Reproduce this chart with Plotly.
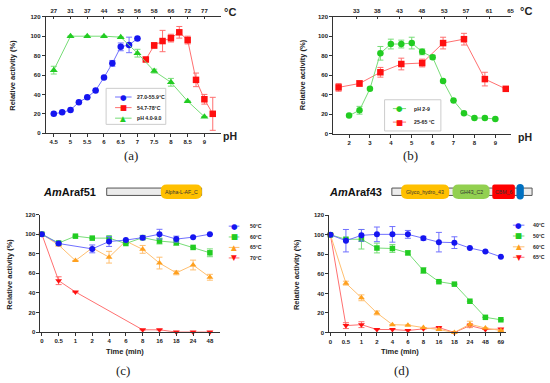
import plotly.graph_objects as go

W, H = 550, 383
def fx(p): return p / W
def fy(p): return 1 - p / H

# ---------------- data ----------------
# (a)
a_blue_ph = [4.5, 4.75, 5, 5.25, 5.5, 5.75, 6, 6.25, 6.5, 6.75, 7]
a_blue_val = [20, 21.5, 24, 32, 37, 44, 57.5, 72, 89, 91, 97.5]
a_blue_err = [0, 0, 0, 0, 0, 0, 0, 3, 4, 8, 0]
a_red_ph = [7.25, 7.5, 7.75, 8, 8.25, 8.5, 8.75, 9, 9.25]
a_red_val = [76, 90.5, 95, 98, 104, 96, 55, 35, 20]
a_red_err = [0, 3, 11, 4, 6, 4, 7, 5, 17]
a_green_ph = [4.5, 5, 5.5, 6, 6.5, 7, 7.5, 8, 8.5, 9]
a_green_val = [65, 100, 100, 100, 99, 82.5, 64, 52.5, 33, 17]
a_green_err = [4, 0, 0, 0, 0, 4, 2, 4, 0, 0]
a_ph_ticks = [4.5, 5, 5.5, 6, 6.5, 7, 7.5, 8, 8.5, 9]
a_ph_labels = ['4.5', '5', '5.5', '6', '6.5', '7', '7.5', '8', '8.5', '9']
a_temp_labels = ['27', '31', '37', '44', '52', '56', '58', '66', '72', '77']
a_legend = ['27.0-55.9°C', '54.7-78°C', 'pH 4.0-9.0']

# (b)
b_green_ph = [2, 2.5, 3, 3.5, 4, 4.5, 5, 5.5, 6, 6.5, 7, 7.5, 8, 8.5, 9]
b_green_val = [18.5, 24, 46, 82.5, 92, 92, 93, 84, 78.5, 54, 34, 21, 16, 16, 15]
b_green_err = [0, 4, 0, 7, 5, 4, 6, 3, 2, 0, 0, 0, 0, 0, 0]
b_red_ph = [1.5, 2.5, 3.5, 4.5, 5.5, 6.5, 7.5, 8.5, 9.5]
b_red_val = [47.5, 51.5, 63, 71.5, 72.5, 93, 97, 56, 46]
b_red_err = [4, 3, 5, 6, 4, 6, 6, 7, 0]
b_ph_ticks = [2, 3, 4, 5, 6, 7, 8, 9]
b_temp_ticks = [2.35, 3.35, 4.41, 5.48, 6.56, 7.6, 8.7, 9.73]
b_temp_labels = ['33', '38', '43', '48', '53', '57', '61', '65']
b_legend = ['pH 2-9', '25-65 °C']

# (c) AmAraf51 thermostability
c_time = ['0', '0.5', '1', '2', '4', '6', '8', '16', '18', '24', '48']
c_50 = [100, 90.5, None, 85, 92.5, 94, 96.5, 100, 95, 97, 100]
c_50_err = [0, 0, 0, 4, 5, 0, 2, 5, 3, 0, 0]
c_60 = [100, 91, 98, 96, 96, 90.5, 96.5, 93, 91.5, 86.5, 81]
c_60_err = [0, 0, 0, 0, 0, 0, 0, 3, 3, 0, 4]
c_65 = [100, 89, 73, 86, 76.5, 93, 84.5, 70.5, 60.5, 68.5, 56]
c_65_err = [0, 0, 0, 0, 6, 0, 4, 6, 2, 5, 3]
c_70 = [100, 52.5, 41, None, None, None, 2.3, 2.3, 0, 0, 0]
c_70_err = [0, 4, 0, 0, 0, 0, 0, 0, 0, 0, 0]
c_legend = ['50°C', '60°C', '65°C', '70°C']

# (d) AmAraf43 thermostability
d_time = ['0', '0.5', '1', '2', '4', '6', '8', '16', '18', '24', '48', '69']
d_40 = [100, 94, 99.5, 100.5, 100.5, 100.5, 96.5, 92.5, 92, 86.5, 83, 77.5]
d_40_err = [0, 11.5, 6, 7.5, 8, 4, 2, 10, 6, 0, 0, 0]
d_50 = [100, 95.5, 95.5, 86.5, 86, 81.5, 63.5, 52, 49.5, 32, 15.5, 13]
d_50_err = [0, 0, 10, 5, 4, 2, 3, 0, 0, 0, 0, 0]
d_60 = [100, 50.5, 35.5, 20, 8, 7.5, 5, 3, 0, 8.5, 4.5, 2]
d_60_err = [0, 2, 3, 2, 0, 0, 0, 0, 0, 3, 0, 0]
d_65 = [100, 7, 8, 3, 3, 2, 3.7, 5, 0, 7, 3, 3.5]
d_65_err = [0, 3, 3, 0, 0, 0, 0, 0, 0, 2, 0, 0]
d_legend = ['40°C', '50°C', '60°C', '65°C']

# ---------------- styles ----------------
BLUE, BLUE_L = '#1515f0', '#7070ff'
RED, RED_L = '#ff1010', '#ff7070'
GREEN, GREEN_L = '#22cc22', '#77dd77'
ORANGE, ORANGE_L = '#ffa01e', '#ffbf70'
AX = '#333333'
FONT = 'Liberation Sans, Arial, sans-serif'

fig = go.Figure()

def series(x, y, err, color, lcolor, symbol, size, xa, ya):
    fig.add_trace(go.Scatter(
        x=x, y=y, mode='lines+markers', xaxis=xa, yaxis=ya,
        connectgaps=True, cliponaxis=False, showlegend=False,
        line=dict(color=lcolor, width=1),
        marker=dict(color=color, symbol=symbol, size=size, line=dict(width=0)),
        error_y=dict(type='data', array=err, color=lcolor, thickness=1, width=3),
    ))

series(a_blue_ph, a_blue_val, a_blue_err, BLUE, BLUE_L, 'circle', 6.5, 'x', 'y')
series(a_red_ph, a_red_val, a_red_err, RED, RED_L, 'square', 6.5, 'x', 'y')
series(a_green_ph, a_green_val, a_green_err, GREEN, GREEN_L, 'triangle-up', 7, 'x', 'y')

series(b_red_ph, b_red_val, b_red_err, RED, RED_L, 'square', 6.5, 'x3', 'y3')
series(b_green_ph, b_green_val, b_green_err, GREEN, GREEN_L, 'circle', 6.5, 'x3', 'y3')

series(c_time, c_70, c_70_err, RED, RED_L, 'triangle-down', 6, 'x5', 'y5')
series(c_time, c_65, c_65_err, ORANGE, ORANGE_L, 'triangle-up', 6, 'x5', 'y5')
series(c_time, c_60, c_60_err, GREEN, GREEN_L, 'square', 5.5, 'x5', 'y5')
series(c_time, c_50, c_50_err, BLUE, BLUE_L, 'circle', 6, 'x5', 'y5')

series(d_time, d_65, d_65_err, RED, RED_L, 'triangle-down', 6, 'x6', 'y6')
series(d_time, d_60, d_60_err, ORANGE, ORANGE_L, 'triangle-up', 6, 'x6', 'y6')
series(d_time, d_50, d_50_err, GREEN, GREEN_L, 'square', 5.5, 'x6', 'y6')
series(d_time, d_40, d_40_err, BLUE, BLUE_L, 'circle', 6, 'x6', 'y6')

tickfont = dict(family=FONT, size=6, color='#222', weight='bold')
def xax(dom, anchor, rng, **kw):
    d = dict(domain=dom, anchor=anchor, range=rng, showgrid=False, zeroline=False,
             showline=True, linecolor=AX, linewidth=1, ticks='outside', ticklen=3,
             tickwidth=1, tickcolor=AX, tickfont=tickfont, fixedrange=True)
    d.update(kw)
    return d

def yax(dom, anchor):
    return dict(domain=dom, anchor=anchor, range=[0, 120], tickvals=[0, 20, 40, 60, 80, 100, 120],
                showgrid=False, zeroline=False, showline=True, linecolor=AX, linewidth=1,
                ticks='outside', ticklen=3, tickwidth=1, tickcolor=AX, tickfont=tickfont,
                fixedrange=True)

a_x = [fx(46), fx(222)]
a_y = [fy(132.3), fy(14)]
b_x = [fx(335), fx(514)]
b_y = [fy(132.7), fy(14)]
c_x = [fx(40.7), fx(221.7)]
c_y = [fy(334.3), fy(215)]
d_x = [fx(331), fx(508.3)]
d_y = [fy(334.7), fy(215.7)]

fig.update_layout(
    width=W, height=H, margin=dict(l=0, r=0, t=0, b=0),
    paper_bgcolor='white', plot_bgcolor='white', showlegend=False,
    xaxis=xax(a_x, 'y', [4.26, 9.49], tickvals=a_ph_ticks, ticktext=a_ph_labels),
    yaxis=yax(a_y, 'x'),
    xaxis2=xax(a_x, 'y', [4.26, 9.49], overlaying='x', side='top', tickvals=a_ph_ticks,
               ticktext=a_temp_labels, ticks='inside', ticklen=2),
    xaxis3=xax(b_x, 'y3', [1.24, 9.76], tickvals=b_ph_ticks),
    yaxis3=yax(b_y, 'x3'),
    xaxis4=xax(b_x, 'y3', [1.24, 9.76], overlaying='x3', side='top', tickvals=b_temp_ticks,
               ticktext=b_temp_labels, ticks='inside', ticklen=2),
    xaxis5=xax(c_x, 'y5', [-0.08, 10.63], type='category'),
    yaxis5=yax(c_y, 'x5'),
    xaxis6=xax(d_x, 'y6', [-0.08, 11.3], type='category'),
    yaxis6=yax(d_y, 'x6'),
)
# make top axes render with a dummy invisible trace
for xa, ya, xs in [('x2', 'y', a_ph_ticks), ('x4', 'y3', b_temp_ticks)]:
    fig.add_trace(go.Scatter(x=xs, y=[None] * len(xs), xaxis=xa, yaxis=ya, mode='markers',
                             showlegend=False, hoverinfo='skip'))

ann = []
shapes = []
def text(x, y, s, size, color='#222', weight='bold', anchor='center', angle=0, family=FONT,
         yanchor='middle'):
    ann.append(dict(x=fx(x), y=fy(y), xref='paper', yref='paper', text=s, showarrow=False,
                    xanchor=anchor, yanchor=yanchor, textangle=angle, borderpad=0,
                    font=dict(family=family, size=size, color=color, weight=weight)))

# axis titles
text(13, 73, 'Relative activity (%)', 7.5, angle=-90)
text(305, 73, 'Relative activity (%)', 7.5, angle=-90)
text(10, 275, 'Relative activity (%)', 7.5, angle=-90)
text(298, 276, 'Relative activity (%)', 7.5, angle=-90)
text(126, 354, 'Time (min)', 7.5)
text(402, 354, 'Time (min)', 7.5)
text(231, 135.5, 'pH', 10.5)
text(528, 136.5, 'pH', 10.5)
text(231, 9, '°C', 11)
text(529, 8, '°C', 11)
# panel letters
SERIF = 'Liberation Serif, Times New Roman, serif'
text(132, 155, '(a)', 13, weight='normal', family=SERIF)
text(413, 155, '(b)', 13, weight='normal', family=SERIF)
text(124, 373, '(c)', 13, weight='normal', family=SERIF)
text(404, 373, '(d)', 13, weight='normal', family=SERIF)

# legends (drawn manually)
GLYPH = {'circle': '●', 'square': '■', 'triangle-up': '▲', 'triangle-down': '▼'}
def legend_row(x1, x2, y, label, color, lcolor, sym, tx, gsize=7.5, fsize=5.2):
    shapes.append(dict(type='line', xref='paper', yref='paper', x0=fx(x1), x1=fx(x2),
                       y0=fy(y), y1=fy(y), line=dict(color=lcolor, width=1)))
    text((x1 + x2) / 2, y, GLYPH[sym], gsize, color=color, weight='normal',
         family='DejaVu Sans')
    text(tx, y, label, fsize, anchor='left')

shapes.append(dict(type='rect', xref='paper', yref='paper', x0=fx(106.7), x1=fx(166.7),
                   y0=fy(123.3), y1=fy(86.7), line=dict(color='#cccccc', width=1)))
for yy, lab, col, lc, sym in zip([95.5, 106.3, 117], a_legend, [BLUE, RED, GREEN],
                                  [BLUE_L, RED_L, GREEN_L], ['circle', 'square', 'triangle-up']):
    legend_row(115.7, 132.3, yy, lab, col, lc, sym, 136.7)

shapes.append(dict(type='rect', xref='paper', yref='paper', x0=fx(386.7), x1=fx(443.3),
                   y0=fy(130), y1=fy(98.3), line=dict(color='#cccccc', width=1)))
for yy, lab, col, lc, sym in zip([107.3, 121], b_legend, [GREEN, RED], [GREEN_L, RED_L],
                                  ['circle', 'square']):
    legend_row(395, 408.3, yy, lab, col, lc, sym, 415)

for yy, lab, col, lc, sym in zip([226.7, 237.7, 248.3, 259], c_legend,
                                  [BLUE, GREEN, ORANGE, RED], [BLUE_L, GREEN_L, ORANGE_L, RED_L],
                                  ['circle', 'square', 'triangle-up', 'triangle-down']):
    legend_row(230, 240.7, yy, lab, col, lc, sym, 250)

for yy, lab, col, lc, sym in zip([225.7, 236.7, 247.7, 258.3], d_legend,
                                  [BLUE, GREEN, ORANGE, RED], [BLUE_L, GREEN_L, ORANGE_L, RED_L],
                                  ['circle', 'square', 'triangle-up', 'triangle-down']):
    legend_row(515.7, 527.3, yy, lab, col, lc, sym, 535)

# domain diagrams
def pill(x0, x1, y0, y1, color, r=None):
    if r is None:
        r = min((x1 - x0) / 2, (y1 - y0) / 2)
    X = lambda v: f'{fx(v):.5f}'
    Y = lambda v: f'{fy(v):.5f}'
    p = (f'M{X(x0 + r)},{Y(y0)} L{X(x1 - r)},{Y(y0)} Q{X(x1)},{Y(y0)} {X(x1)},{Y(y0 + r)} '
         f'L{X(x1)},{Y(y1 - r)} Q{X(x1)},{Y(y1)} {X(x1 - r)},{Y(y1)} '
         f'L{X(x0 + r)},{Y(y1)} Q{X(x0)},{Y(y1)} {X(x0)},{Y(y1 - r)} '
         f'L{X(x0)},{Y(y0 + r)} Q{X(x0)},{Y(y0)} {X(x0 + r)},{Y(y0)} Z')
    shapes.append(dict(type='path', xref='paper', yref='paper', path=p, fillcolor=color,
                       line=dict(width=0)))

def bar(x0, x1):
    shapes.append(dict(type='rect', xref='paper', yref='paper', x0=fx(x0), x1=fx(x1),
                       y0=fy(195.5), y1=fy(188), fillcolor='#ececec',
                       line=dict(color='#555555', width=1)))

# AmAraf51
ann.append(dict(x=fx(98), y=fy(191.5), xref='paper', yref='paper', showarrow=False,
                xanchor='right', borderpad=0,
                text='<i>Am</i>Araf51', font=dict(family=FONT, size=11, color='#111', weight='bold')))
bar(107.3, 202.7)
pill(161.7, 203, 184.5, 199, '#ffc000', r=6)
text(182, 191.7, 'Alpha-L-AF_C', 5.2, color='#333', weight='normal')

# AmAraf43
ann.append(dict(x=fx(385), y=fy(191.5), xref='paper', yref='paper', showarrow=False,
                xanchor='right', borderpad=0,
                text='<i>Am</i>Araf43', font=dict(family=FONT, size=11, color='#111', weight='bold')))
bar(394, 535)
pill(403.3, 451.7, 184.5, 199, '#ffc000', r=6)
pill(455, 492.3, 184.5, 199, '#92d050', r=6)
pill(495, 517.7, 184.5, 199, '#ff0000', r=2)
pill(519.3, 526.7, 184, 199.5, '#0070c0', r=3.7)
text(427.5, 191.7, 'Glyco_hydro_43', 5.2, color='#333', weight='normal')
text(473.6, 191.7, 'GH43_C2', 5.2, color='#333', weight='normal')
text(506.3, 191.7, 'CBM_6', 5.2, color='#333', weight='normal')

fig.update_layout(annotations=ann, shapes=shapes)
fig.write_html('out.html', config=dict(displayModeBar=False, staticPlot=True),
               post_script="document.body.style.margin='0';document.body.style.overflow='hidden';")
